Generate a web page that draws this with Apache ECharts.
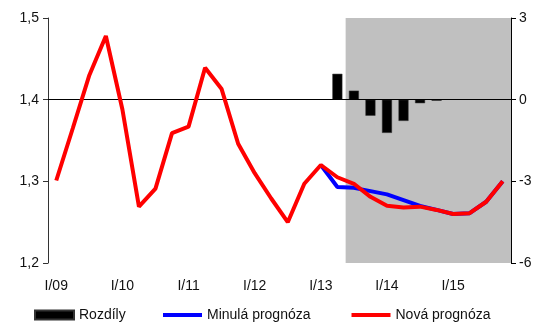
<!DOCTYPE html>
<html>
<head>
<meta charset="utf-8">
<script src="https://cdn.jsdelivr.net/npm/echarts@6/dist/echarts.min.js"></script>
<style>html,body{margin:0;padding:0;background:#fff;}#c{width:535px;height:322px;}</style>
</head>
<body>
<div id="c"></div>
<script>
var categories = ['I/09','II/09','III/09','IV/09','I/10','II/10','III/10','IV/10','I/11','II/11','III/11','IV/11','I/12','II/12','III/12','IV/12','I/13','II/13','III/13','IV/13','I/14','II/14','III/14','IV/14','I/15','II/15','III/15','IV/15'];
var novaPrognoza = [1.301,1.365,1.430,1.478,1.388,1.269,1.291,1.359,1.367,1.439,1.413,1.346,1.310,1.279,1.250,1.297,1.320,1.305,1.297,1.281,1.270,1.268,1.269,1.265,1.260,1.261,1.275,1.300];
var minulaPrognoza = [null,null,null,null,null,null,null,null,null,null,null,null,null,null,null,null,1.320,1.293,1.292,1.288,1.284,1.277,1.270,1.265,1.260,1.261,1.275,1.300];
var rozdily = [null,null,null,null,null,null,null,null,null,null,null,null,null,null,null,null,null,0.95,0.33,-0.59,-1.22,-0.78,-0.13,-0.04,null,null,null,null];
var leftTicks = [1.2, 1.5, 0.1];
var rightTicks = [-6, 3, 3];
var forecastStart = 18; // first forecast quarter index (III/13)

var font = 'Liberation Sans, Arial, sans-serif';
var chart = echarts.init(document.getElementById('c'), null, {renderer: 'canvas'});
var legendText = {fontSize: 14, color: '#111', fontFamily: font, lineHeight: 16};
chart.setOption({
  animation: false,
  textStyle: {fontFamily: font},
  grid: {left: 48, right: 24, top: 18, bottom: 59, containLabel: false},
  legend: [
    {
      left: 34, top: 307, padding: 0, itemWidth: 39, itemHeight: 9,
      textStyle: legendText,
      data: [{name: 'Rozdíly', icon: 'rect'}]
    },
    {
      left: 163, top: 307, padding: 0, itemWidth: 39, itemHeight: 4, itemGap: 41,
      textStyle: legendText,
      data: [{name: 'Minulá prognóza', icon: 'rect'}, {name: 'Nová prognóza', icon: 'rect'}]
    }
  ],
  xAxis: [
    {
      type: 'category', data: categories, boundaryGap: true,
      axisLine: {lineStyle: {color: '#888', width: 1}},
      axisTick: {show: false},
      axisLabel: {interval: 3, fontSize: 14, color: '#111', margin: 16, fontFamily: font}
    },
    {type: 'value', min: 0, max: categories.length, show: false}
  ],
  yAxis: [
    {
      type: 'value', min: leftTicks[0], max: leftTicks[1], interval: leftTicks[2],
      axisLine: {show: true, lineStyle: {color: '#333'}},
      axisTick: {show: true, length: 5, lineStyle: {color: '#333'}},
      splitLine: {show: false},
      axisLabel: {fontSize: 14, color: '#111', margin: 9, fontFamily: font,
        formatter: function (v) { return v.toFixed(1).replace('.', ','); }}
    },
    {
      type: 'value', min: rightTicks[0], max: rightTicks[1], interval: rightTicks[2],
      position: 'right',
      axisLine: {show: true, lineStyle: {color: '#000'}},
      axisTick: {show: true, length: 5, lineStyle: {color: '#000'}},
      splitLine: {show: false},
      axisLabel: {fontSize: 14, color: '#111', margin: 8, fontFamily: font}
    }
  ],
  series: [
    {
      type: 'line', xAxisIndex: 1, yAxisIndex: 0, data: [], z: 0, silent: true,
      markArea: {silent: true, itemStyle: {color: '#c0c0c0'},
        data: [[{xAxis: forecastStart}, {xAxis: categories.length}]]},
      markLine: {silent: true, symbol: 'none', label: {show: false},
        lineStyle: {color: '#000', width: 1, type: 'solid'},
        data: [{yAxis: 1.4}]}
    },
    {
      name: 'Rozdíly', type: 'bar', xAxisIndex: 0, yAxisIndex: 1, data: rozdily,
      barWidth: 10, itemStyle: {color: '#000', borderColor: '#333', borderWidth: 0.5}, z: 3
    },
    {
      name: 'Minulá prognóza', type: 'line', xAxisIndex: 0, yAxisIndex: 0, data: minulaPrognoza,
      symbol: 'none', lineStyle: {color: '#0000ff', width: 4}, itemStyle: {color: '#0000ff'}, z: 4
    },
    {
      name: 'Nová prognóza', type: 'line', xAxisIndex: 0, yAxisIndex: 0, data: novaPrognoza,
      symbol: 'none', lineStyle: {color: '#ff0000', width: 4}, itemStyle: {color: '#ff0000'}, z: 5
    }
  ]
});
</script>
</body>
</html>
